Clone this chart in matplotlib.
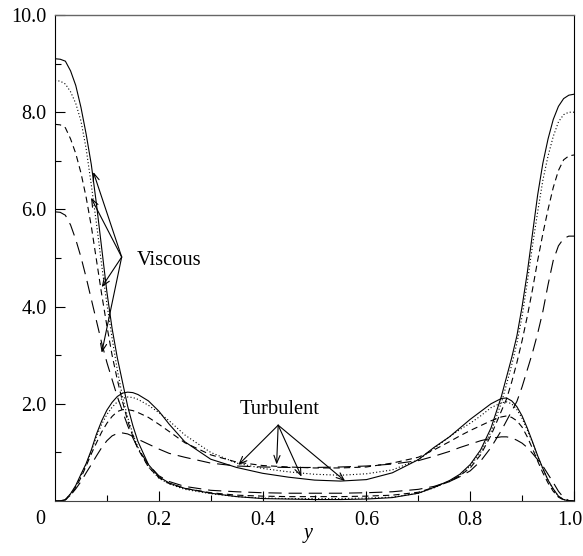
import matplotlib
matplotlib.use("Agg")
import matplotlib.pyplot as plt
from matplotlib.transforms import ScaledTranslation

plt.rcParams['font.family'] = ['Liberation Serif', 'DejaVu Serif']
plt.rcParams['lines.scale_dashes'] = False

# wall-normal coordinate
y_pos = [0.00, 0.01, 0.02, 0.03, 0.04, 0.05, 0.06, 0.07, 0.08, 0.09, 0.10, 0.11,
         0.12, 0.13, 0.14, 0.15, 0.16, 0.18, 0.20, 0.22, 0.25, 0.30, 0.35, 0.40,
         0.45, 0.50, 0.55, 0.60, 0.65, 0.70, 0.73, 0.76, 0.78, 0.80, 0.82, 0.84,
         0.86, 0.87, 0.88, 0.89, 0.90, 0.91, 0.92, 0.93, 0.94, 0.95, 0.96, 0.97,
         0.98, 0.99, 1.00]

# viscous curves
visc_solid = [9.10, 9.09, 9.05, 8.85, 8.55, 8.10, 7.55, 6.92, 6.10, 5.20, 4.30, 3.55,
              2.95, 2.45, 1.95, 1.55, 1.22, 0.75, 0.50, 0.37, 0.26, 0.16, 0.09, 0.05,
              0.04, 0.03, 0.03, 0.04, 0.07, 0.16, 0.28, 0.42, 0.55, 0.75, 1.05, 1.50,
              2.15, 2.55, 2.95, 3.40, 4.00, 4.70, 5.50, 6.30, 6.95, 7.45, 7.85, 8.12,
              8.28, 8.35, 8.37]
visc_dotted = [8.65, 8.64, 8.58, 8.42, 8.18, 7.82, 7.25, 6.50, 5.70, 4.85, 4.05, 3.35,
               2.70, 2.15, 1.72, 1.38, 1.10, 0.70, 0.47, 0.35, 0.24, 0.15, 0.09, 0.06,
               0.05, 0.05, 0.05, 0.06, 0.08, 0.16, 0.27, 0.41, 0.53, 0.72, 1.00, 1.42,
               2.02, 2.40, 2.80, 3.25, 3.80, 4.50, 5.25, 5.95, 6.60, 7.10, 7.50, 7.80,
               7.95, 8.00, 8.00]
visc_dash = [7.75, 7.74, 7.68, 7.45, 7.15, 6.75, 6.25, 5.65, 4.95, 4.25, 3.60, 3.00,
             2.50, 2.05, 1.65, 1.33, 1.07, 0.70, 0.48, 0.36, 0.26, 0.17, 0.12, 0.10,
             0.09, 0.09, 0.09, 0.10, 0.12, 0.18, 0.28, 0.40, 0.52, 0.68, 0.95, 1.35,
             1.85, 2.10, 2.45, 2.85, 3.30, 3.80, 4.35, 4.95, 5.50, 6.00, 6.45, 6.80,
             7.02, 7.10, 7.12]
visc_longdash = [5.95, 5.94, 5.88, 5.68, 5.38, 5.02, 4.60, 4.15, 3.70, 3.25, 2.85, 2.50,
                 2.15, 1.85, 1.55, 1.30, 1.08, 0.75, 0.52, 0.40, 0.30, 0.22, 0.19, 0.17,
                 0.16, 0.16, 0.16, 0.17, 0.19, 0.24, 0.30, 0.40, 0.50, 0.62, 0.82, 1.10,
                 1.45, 1.65, 1.85, 2.05, 2.35, 2.70, 3.05, 3.45, 3.90, 4.45, 4.95, 5.25,
                 5.40, 5.45, 5.45]

# turbulent curves
turb_solid = [0.00, 0.00, 0.03, 0.15, 0.32, 0.55, 0.77, 1.05, 1.38, 1.65, 1.87, 2.03,
              2.15, 2.22, 2.24, 2.23, 2.19, 2.06, 1.85, 1.58, 1.22, 0.86, 0.69, 0.57,
              0.49, 0.43, 0.41, 0.44, 0.58, 0.85, 1.10, 1.32, 1.50, 1.68, 1.84, 2.00,
              2.11, 2.12, 2.06, 1.94, 1.75, 1.50, 1.22, 0.93, 0.67, 0.43, 0.25, 0.10,
              0.03, 0.00, 0.00]
turb_dotted = [0.00, 0.00, 0.03, 0.14, 0.30, 0.52, 0.75, 1.02, 1.33, 1.58, 1.78, 1.93,
               2.04, 2.11, 2.14, 2.13, 2.09, 1.97, 1.82, 1.65, 1.36, 1.00, 0.78, 0.67,
               0.60, 0.55, 0.53, 0.56, 0.64, 0.85, 1.08, 1.32, 1.47, 1.60, 1.75, 1.92,
               2.02, 2.04, 2.00, 1.88, 1.70, 1.46, 1.20, 0.92, 0.66, 0.43, 0.24, 0.10,
               0.03, 0.00, 0.00]
turb_dash = [0.00, 0.00, 0.03, 0.12, 0.28, 0.48, 0.72, 0.97, 1.20, 1.42, 1.60, 1.74,
             1.84, 1.88, 1.88, 1.86, 1.82, 1.72, 1.58, 1.43, 1.20, 0.95, 0.80, 0.73,
             0.70, 0.68, 0.68, 0.70, 0.78, 0.90, 1.05, 1.22, 1.34, 1.45, 1.55, 1.65,
             1.73, 1.75, 1.72, 1.65, 1.52, 1.32, 1.08, 0.82, 0.58, 0.37, 0.20, 0.08,
             0.02, 0.00, 0.00]
turb_longdash = [0.00, 0.00, 0.02, 0.12, 0.25, 0.40, 0.58, 0.75, 0.93, 1.10, 1.24, 1.34,
                 1.39, 1.40, 1.38, 1.33, 1.27, 1.17, 1.07, 0.98, 0.90, 0.78, 0.72, 0.70,
                 0.69, 0.69, 0.70, 0.72, 0.76, 0.83, 0.92, 1.02, 1.10, 1.17, 1.24, 1.29,
                 1.32, 1.32, 1.30, 1.25, 1.19, 1.10, 0.98, 0.85, 0.72, 0.55, 0.38, 0.20,
                 0.07, 0.01, 0.00]

x_ticks = [0.2, 0.4, 0.6, 0.8, 1.0]
x_ticklabels = ['0.2', '0.4', '0.6', '0.8', '1.0']
y_ticks = [2.0, 4.0, 6.0, 8.0, 10.0]
y_ticklabels = ['2.0', '4.0', '6.0', '8.0', '10.0']

styles = {
    'solid': dict(linestyle='-'),
    'dotted': dict(linestyle=(0, (0.8, 1.6))),
    'dash': dict(linestyle=(0, (4.5, 3.0))),
    'longdash': dict(linestyle=(0, (9.5, 5.0))),
}

fig = plt.figure(figsize=(5.83, 5.56), dpi=100)
ax = fig.add_axes([55/583, 1 - 501/556, 519/583, 486/556])

lw = 0.8
for vals, st in [(visc_solid, 'solid'), (visc_dotted, 'dotted'),
                 (visc_dash, 'dash'), (visc_longdash, 'longdash'),
                 (turb_solid, 'solid'), (turb_dotted, 'dotted'),
                 (turb_dash, 'dash'), (turb_longdash, 'longdash')]:
    ax.plot(y_pos, vals, color='black', lw=lw, **styles[st])

ax.set_xlim(0, 1.0)
ax.set_ylim(0, 10.0)
ax.set_xticks(x_ticks)
ax.set_xticklabels(x_ticklabels)
ax.set_xticks([0.1, 0.3, 0.5, 0.7, 0.9], minor=True)
ax.set_yticks(y_ticks)
ax.set_yticklabels(y_ticklabels)
ax.set_yticks([1, 3, 5, 7, 9], minor=True)
ax.tick_params(which='both', direction='in', top=False, right=False,
               labelsize=14.5, width=0.8, color='black')
ax.tick_params(which='major', length=7)
ax.tick_params(which='minor', length=4)
ax.tick_params(axis='x', pad=7)
ax.tick_params(axis='y', pad=6)
for s in ['left', 'right', 'bottom']:
    ax.spines[s].set_linewidth(0.8)
ax.spines['top'].set_linewidth(1.0)
ax.spines['top'].set_color('#666666')
ax.spines['bottom'].set_color('#444444')

# shift the last x tick label slightly left so it stays inside the figure
last_lab = ax.get_xticklabels()[-1]
last_lab.set_transform(last_lab.get_transform() +
                       ScaledTranslation(-4.5/100, 0, fig.dpi_scale_trans))

# corner "0"
ax.annotate('0', xy=(0, 0), xycoords='data', xytext=(-10.5, -13.5),
            textcoords='offset points', ha='center', va='center', fontsize=14.5)

ax.set_xlabel('y', fontstyle='italic', fontsize=14.5)
ax.xaxis.set_label_coords(0.4875, -0.076)
ax.xaxis.label.set_va('baseline')

# annotations
ax.text(0.158, 4.856, 'Viscous', fontsize=14.8, ha='left', va='baseline')
ax.text(0.355, 1.80, 'Turbulent', fontsize=14.8, ha='left', va='baseline')

arrow_kw = dict(arrowstyle='->,head_length=0.55,head_width=0.22', lw=0.8,
                color='black', shrinkA=0, shrinkB=0)
visc_origin = (0.1285, 5.02)
visc_tips = [(0.0738, 6.77), (0.0694, 6.24), (0.0900, 4.40), (0.0900, 3.05)]
for tip in visc_tips:
    ax.annotate('', xy=tip, xytext=visc_origin, arrowprops=dict(arrow_kw, mutation_scale=10))

turb_origin = (0.430, 1.56)
turb_tips = [(0.353, 0.74), (0.427, 0.75), (0.475, 0.50), (0.559, 0.41)]
for tip in turb_tips:
    ax.annotate('', xy=tip, xytext=turb_origin, arrowprops=dict(arrow_kw, mutation_scale=10))

fig.savefig('out.png', dpi=100)
